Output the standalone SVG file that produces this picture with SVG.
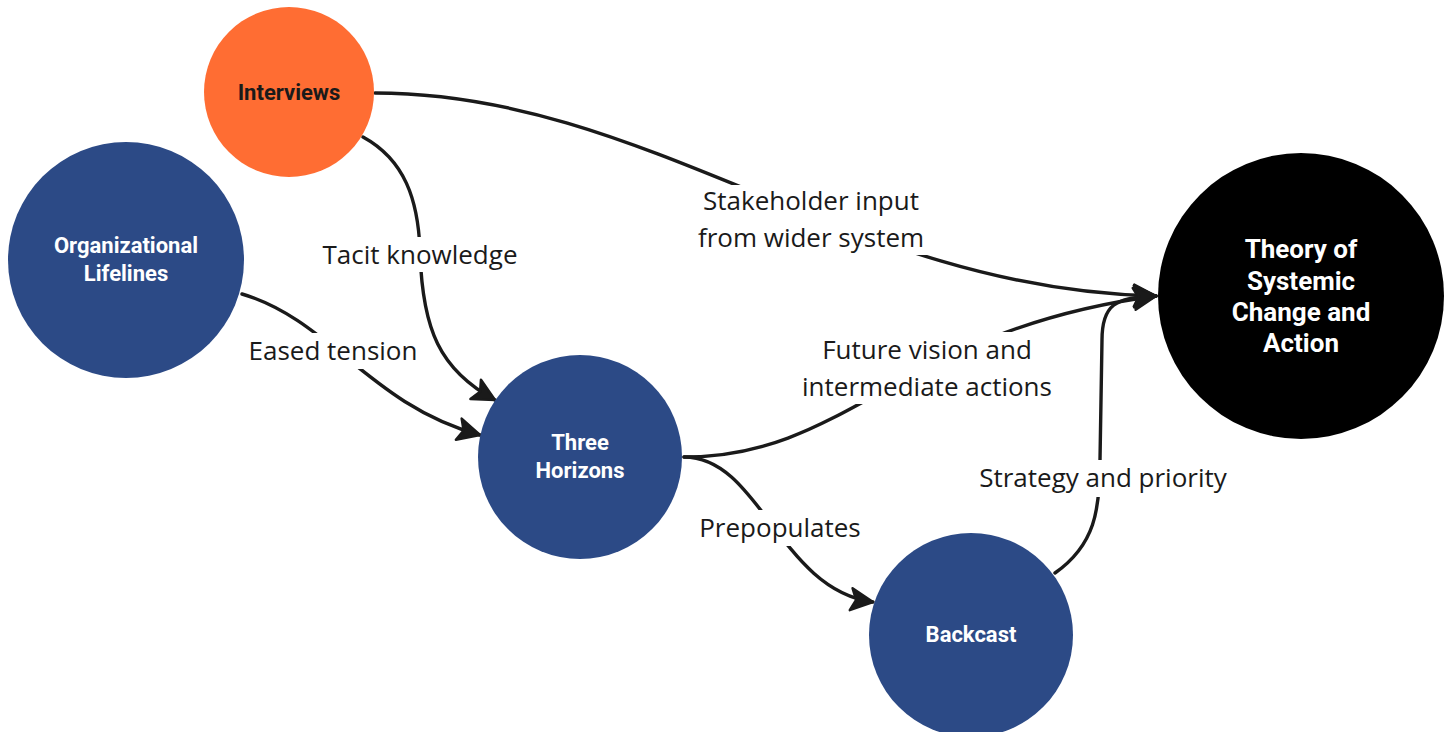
<svg xmlns="http://www.w3.org/2000/svg" width="1450" height="732" viewBox="0 0 1450 732">
  <style>
    .edge { fill: none; stroke: #1a1a1a; stroke-width: 3.4; stroke-linecap: round; marker-end: url(#arrow); }
    .lbl-bg { fill: #ffffff; }
    .lbl { font-family: "Open Sans", "Liberation Sans", sans-serif; font-size: 26px; fill: #1a1a1a; text-anchor: middle; }
    .node-text { font-family: Roboto, "Liberation Sans", sans-serif; font-weight: 700; font-size: 22px; fill: #ffffff; text-anchor: middle; }
    .big { font-size: 26px; }
    .dark { fill: #1a1a1a; }
    .blue { fill: #2c4a86; }
  </style>
  <defs>
    <marker id="arrow" viewBox="0 0 26 26" markerWidth="26" markerHeight="26" refX="24" refY="13" orient="auto" markerUnits="userSpaceOnUse">
      <path d="M2,2 L24,13 L2,24 L7,13 Z" fill="#1a1a1a" stroke="#1a1a1a" stroke-width="2.5" stroke-linejoin="round"/>
    </marker>
  </defs>

  <rect width="1450" height="732" fill="#ffffff"/>

  <!-- connectors -->
  <g id="connectors">
    <path id="e-interviews-theory" class="edge" d="M375,93 C650,93 850,290 1156,296"/>
    <path id="e-interviews-horizons" class="edge" d="M363,137 C405,160 418,200 420,250 C422,330 440,370 495,400"/>
    <path id="e-lifelines-horizons" class="edge" d="M242,294 C330,320 370,405 480,435"/>
    <path id="e-horizons-theory" class="edge" d="M684,457 C850,457 900,330 1156,296"/>
    <path id="e-horizons-backcast" class="edge" d="M684,457 C760,457 780,590 873,602"/>
    <path id="e-backcast-theory" class="edge" d="M1055,573 C1095,545 1100,510 1100,460 L1102,340 C1102,305 1115,297 1156,296"/>
  </g>

  <!-- connector labels -->
  <g id="labels">
    <rect class="lbl-bg" x="692" y="185" width="238" height="70"/>
    <text class="lbl" x="811" y="210">Stakeholder input</text>
    <text class="lbl" x="811" y="247">from wider system</text>

    <rect class="lbl-bg" x="314" y="237" width="212" height="35"/>
    <text class="lbl" x="420" y="264">Tacit knowledge</text>

    <rect class="lbl-bg" x="242" y="333" width="182" height="36"/>
    <text class="lbl" x="333" y="360">Eased tension</text>

    <rect class="lbl-bg" x="794" y="332" width="266" height="72"/>
    <text class="lbl" x="927" y="359">Future vision and</text>
    <text class="lbl" x="927" y="396">intermediate actions</text>

    <rect class="lbl-bg" x="692" y="510" width="176" height="36"/>
    <text class="lbl" x="780" y="537">Prepopulates</text>

    <rect class="lbl-bg" x="970" y="460" width="266" height="37"/>
    <text class="lbl" x="1103" y="487">Strategy and priority</text>
  </g>

  <!-- nodes -->
  <g id="node-interviews">
    <circle cx="289" cy="92" r="85" fill="#ff6d33"/>
    <text class="node-text dark" x="289" y="100">Interviews</text>
  </g>

  <g id="node-lifelines">
    <circle class="blue" cx="126" cy="260" r="118"/>
    <text class="node-text" x="126" y="253">Organizational</text>
    <text class="node-text" x="126" y="281">Lifelines</text>
  </g>

  <g id="node-horizons">
    <circle class="blue" cx="580" cy="457" r="102"/>
    <text class="node-text" x="580" y="450">Three</text>
    <text class="node-text" x="580" y="478">Horizons</text>
  </g>

  <g id="node-backcast">
    <circle class="blue" cx="971" cy="635" r="102"/>
    <text class="node-text" x="971" y="642">Backcast</text>
  </g>

  <g id="node-theory">
    <circle cx="1301" cy="296" r="143" fill="#000000"/>
    <text class="node-text big" x="1301" y="258">Theory of</text>
    <text class="node-text big" x="1301" y="290">Systemic</text>
    <text class="node-text big" x="1301" y="321">Change and</text>
    <text class="node-text big" x="1301" y="352">Action</text>
  </g>
</svg>
